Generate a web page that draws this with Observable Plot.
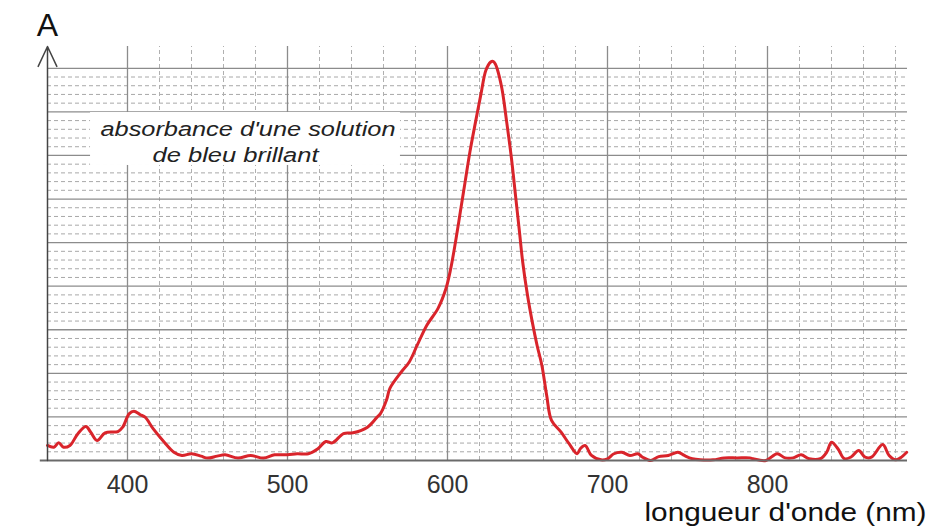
<!DOCTYPE html>
<html>
<head>
<meta charset="utf-8">
<script src="https://cdn.jsdelivr.net/npm/d3@7"></script>
<script src="https://cdn.jsdelivr.net/npm/@observablehq/plot@0.6"></script>
<style>
  html, body { margin: 0; padding: 0; background: #fff; }
  svg { display: block; }
</style>
</head>
<body>
<div id="chart"></div>
<script>
// Wavelength (nm) and absorbance (arbitrary units, top gridline = 1.8)
const wavelength = [350,354,357,360,364,369,374,377,381,386,394,397,401,404,408,411,416,423,429,434,440,446,450,456,461,469,477,485,492,500,506,513,519,524,528,535,541,550,556,558,562,564,571,576,581,587,594,599,602,605,608,611,614,617.5,621,624,627,628.5,630,631,634,637,640,642.5,645,647,650,653,656,659,662,665,671,676,681,683,686,690,696,700,704,709,714,719,722,727,732,738,744,748,753,758,766,773,781,789,791,799,806,811,816,821,826,833,837,840,844,848,852,857,861,865,872,876,880,883,887];
const absorbance = [0.069,0.061,0.081,0.061,0.069,0.123,0.156,0.130,0.092,0.127,0.133,0.153,0.214,0.226,0.210,0.199,0.146,0.084,0.038,0.023,0.031,0.020,0.011,0.020,0.026,0.011,0.023,0.011,0.026,0.026,0.031,0.031,0.054,0.087,0.081,0.123,0.127,0.153,0.199,0.214,0.280,0.331,0.405,0.451,0.528,0.620,0.697,0.788,0.880,1.003,1.140,1.278,1.416,1.553,1.685,1.791,1.829,1.832,1.818,1.799,1.707,1.553,1.385,1.217,1.048,0.911,0.758,0.635,0.528,0.436,0.298,0.184,0.130,0.077,0.031,0.054,0.069,0.023,0.003,0.008,0.031,0.038,0.023,0.031,0.015,0.000,0.018,0.023,0.038,0.023,0.008,0.003,0.003,0.012,0.012,0.012,0.008,0.000,0.031,0.012,0.012,0.026,0.008,0.008,0.038,0.084,0.054,0.008,0.015,0.046,0.015,0.015,0.073,0.023,0.003,0.012,0.038];

// Axis ticks and grid
const xTicks = [400, 500, 600, 700, 800];
const xMinor = [420,440,460,480,520,540,560,580,620,640,660,680,720,740,760,780,820,840,860,880];
const yMajor = [0.2,0.4,0.6,0.8,1.0,1.2,1.4,1.6,1.8];
const yMinor = d3.range(0.04, 1.8001, 0.04).filter(v => Math.abs(v / 0.2 - Math.round(v / 0.2)) > 1e-6);

// Texts
const yLabel = "A";
const xLabel = "longueur d'onde (nm)";
const noteLines = ["absorbance d'une solution", "de bleu brillant"];

// Layout constants (annotation placement, in data units)
const noteBox = {x1: 376.9, x2: 570.6, y1: 1.354, y2: 1.597};
const notePos = [{x: 475.3, y: 1.4915}, {x: 467.5, y: 1.372}];

const data = wavelength.map((w, i) => ({w, a: absorbance[i]}));
const notes = noteLines.map((t, i) => ({t, ...notePos[i]}));

const plot = Plot.plot({
  width: 946,
  height: 529,
  marginLeft: 47,
  marginRight: 39,
  marginTop: 46,
  marginBottom: 69,
  x: {domain: [350, 887.5]},
  y: {domain: [0, 1.9], axis: null},
  style: {fontFamily: "'Liberation Sans', Arial, sans-serif", background: "#fff", color: "#333"},
  marks: [
    Plot.ruleY(yMinor, {stroke: "#a8a8a8", strokeDasharray: "4,3", strokeWidth: 1}),
    Plot.ruleX(xMinor, {y1: 0, y2: 1.9, stroke: "#b0b0b0", strokeDasharray: "4,3", strokeWidth: 1}),
    Plot.ruleY(yMajor, {stroke: "#8c8c8c", strokeWidth: 1.3}),
    Plot.ruleX(xTicks, {y1: 0, y2: 1.9, stroke: "#8c8c8c", strokeWidth: 1.3}),
    Plot.rect([noteBox], {x1: "x1", x2: "x2", y1: "y1", y2: "y2", fill: "#fff"}),
    Plot.text(notes, {x: "x", y: "y", text: "t", fontSize: 20, fontStyle: "italic", fill: "#222", textAnchor: "middle", lineAnchor: "bottom"}),
    Plot.line(data, {x: "w", y: "a", stroke: "#d9242b", strokeWidth: 3, curve: "catmull-rom"}),
    Plot.ruleY([0], {x1: 345.5, x2: 887.5, stroke: "#6a6a6a", strokeWidth: 2.2}),
    Plot.arrow([{x1: 350, y1: 0, x2: 350, y2: 1.9}], {x1: "x1", y1: "y1", x2: "x2", y2: "y2", stroke: "#444", strokeWidth: 1.5, headLength: 22, headAngle: 50}),
    Plot.axisX({ticks: xTicks, tickSize: 0, tickPadding: 15, fontSize: 25, fill: "#333", label: null}),
    Plot.text([yLabel], {frameAnchor: "top-left", dx: 0, dy: -11, fontSize: 32, fill: "#111", textAnchor: "middle", lineAnchor: "bottom"}),
    Plot.text([xLabel], {frameAnchor: "bottom-right", dx: 19, dy: 60, fontSize: 25, fill: "#111", textAnchor: "end", lineAnchor: "bottom"})
  ]
});

// Match the wider lettering of the reference
const lengths = {};
lengths[xLabel] = 282;
lengths[noteLines[0]] = 295;
lengths[noteLines[1]] = 166;
plot.querySelectorAll("text").forEach(t => {
  const s = t.textContent;
  if (lengths[s]) {
    t.setAttribute("textLength", lengths[s]);
    t.setAttribute("lengthAdjust", "spacingAndGlyphs");
  }
});

document.getElementById("chart").appendChild(plot);
</script>
</body>
</html>
